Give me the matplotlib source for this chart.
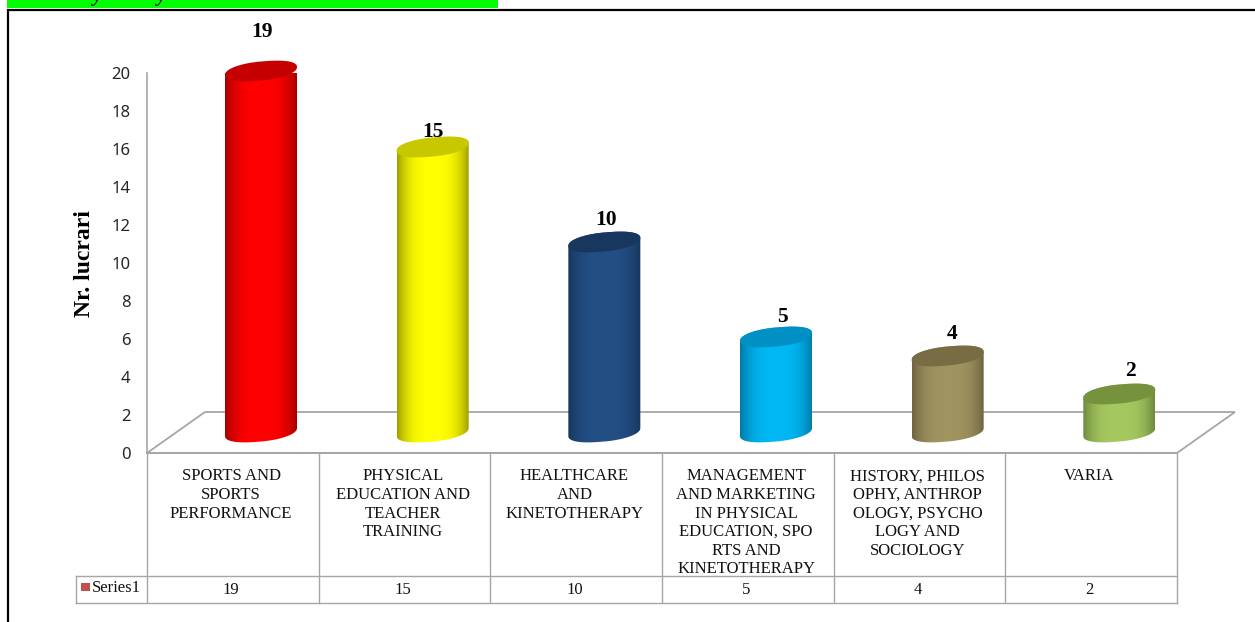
import numpy as np
import matplotlib
matplotlib.use('Agg')
import matplotlib.pyplot as plt
from matplotlib.patches import Polygon, Rectangle

# the chart data
categories = ['SPORTS AND\nSPORTS\nPERFORMANCE',
              'PHYSICAL\nEDUCATION AND\nTEACHER\nTRAINING',
              'HEALTHCARE\nAND\nKINETOTHERAPY',
              'MANAGEMENT\nAND MARKETING\nIN PHYSICAL\nEDUCATION, SPO\nRTS AND\nKINETOTHERAPY',
              'HISTORY, PHILOS\nOPHY, ANTHROP\nOLOGY, PSYCHO\nLOGY AND\nSOCIOLOGY',
              'VARIA']
values = [19, 15, 10, 5, 4, 2]
series_name = 'Series1'
y_ticks = [0, 2, 4, 6, 8, 10, 12, 14, 16, 18, 20]
y_title = 'Nr. lucrari'

# colours of each cylinder: edge, centre, top
edge_colors = ['#a80000', '#a0a000', '#17365d', '#0078a8', '#6e6540', '#6f8a3c']
mid_colors = ['#ff0000', '#ffff00', '#234f85', '#00b8f4', '#a09460', '#a6c860']
top_colors = ['#c40000', '#c8c800', '#17375e', '#0090c4', '#786c44', '#76923c']
# nudges of the value labels, in pixels
label_dx = [1, 0, 2, 6, 4, 11]
label_dy = [39, 15, 22, 20, 22, 23]

GREY = '#a6a6a6'
W, H = 1255, 622
X0, X1 = 147, 1177      # plot area in pixels
Y0, Y20 = 453, 73
PX_X = (X1 - X0) / len(values)
PX_Y = (Y0 - Y20) / 20.0

plt.rcParams['font.family'] = ['Liberation Serif', 'DejaVu Serif']

fig = plt.figure(figsize=(W / 100, H / 100), dpi=100)
ax = fig.add_axes([X0 / W, 1 - Y0 / H, (X1 - X0) / W, (Y0 - Y20) / H])
ax.set_xlim(0, len(values))
ax.set_ylim(0, 20)
ax.patch.set_alpha(0)
for s in ['top', 'right', 'bottom']:
    ax.spines[s].set_visible(False)
ax.spines['left'].set_color(GREY)
ax.spines['left'].set_linewidth(1.2)
ax.set_xticks([])
ax.set_yticks(y_ticks)
ax.tick_params(axis='y', length=0, pad=12, labelsize=12, labelcolor='#262626')
for t in ax.get_yticklabels():
    t.set_family('Noto Sans')


def dx(px):
    return px / PX_X


def dy(px):
    return px / PX_Y


# floor of the 3d box
floor = Polygon([(0, 0), (dx(58), dy(41)), (len(values) + dx(58), dy(41)),
                 (len(values), 0)], closed=True, fc='white', ec=GREY, lw=1.3,
                clip_on=False, zorder=1)
ax.add_patch(floor)


def cylinder(i, val):
    """one gradient cylinder standing on the floor"""
    cx = i + dx(114)
    base = dy(21)
    a, b, s = dx(36), dy(9.5), dy(4)
    t = np.linspace(0, 2 * np.pi, 181)
    ex = cx + a * np.sign(np.cos(t)) * np.abs(np.cos(t)) ** 0.9
    ey = b * np.sign(np.sin(t)) * np.abs(np.sin(t)) ** 0.9 + s * np.cos(t)
    top = base + val

    # body outline: lower half of base ellipse, then upper half of top one
    low = (t >= np.pi)
    up = (t <= np.pi)
    bx = np.concatenate([ex[low], ex[up]])
    by = np.concatenate([base + ey[low], top + ey[up]])
    body = Polygon(np.column_stack([bx, by]), closed=True, fc='none', ec='none',
                   clip_on=False)
    ax.add_patch(body)

    c0 = np.array(matplotlib.colors.to_rgb(edge_colors[i]))
    c1 = np.array(matplotlib.colors.to_rgb(mid_colors[i]))
    u = np.linspace(-1, 1, 72)
    w = np.clip(1 - np.abs(u) ** 3, 0, 1)[:, None]
    img = (c0 + (c1 - c0) * w)[None, :, :]
    im = ax.imshow(img, extent=[cx - a, cx + a, base - b - s, top + b + s],
                   aspect='auto', zorder=3, interpolation='bilinear')
    im.set_clip_path(body)

    ax.add_patch(Polygon(np.column_stack([ex, top + ey]), closed=True,
                         fc=top_colors[i], ec='none', zorder=4, clip_on=False))


for i, v in enumerate(values):
    cylinder(i, v)
    ax.text(i + dx(114 + label_dx[i]), dy(21) + v + dy(label_dy[i]), str(v),
            ha='center', va='center', fontsize=15.5, fontweight='bold',
            color='black', clip_on=False, zorder=6)

ax.set_xlim(0, len(values))
ax.set_ylim(0, 20)
ax.text(-dx(62), dy(Y0 - 264), y_title, rotation=90, ha='center', va='center',
        fontsize=17, fontweight='bold', color='black', clip_on=False)

# data table below the plot
y_cat = -dy(123)
y_val = -dy(150)
x_key = -dx(71)
line = dict(color=GREY, lw=1.0, clip_on=False, zorder=2)
ax.plot([0, len(values)], [0, 0], color=GREY, lw=1.3, clip_on=False, zorder=2)
ax.plot([x_key, len(values)], [y_cat, y_cat], **line)
ax.plot([x_key, len(values)], [y_val, y_val], **line)
ax.plot([x_key, x_key], [y_cat, y_val], **line)
for k in range(len(values) + 1):
    ax.plot([k, k], [0, y_val], **line)

for i, (c, v) in enumerate(zip(categories, values)):
    ax.text(i + 0.49, -dy(15.5), c, ha='center', va='top', fontsize=12,
            linespacing=1.21, color='#111111', clip_on=False)
    ax.text(i + 0.49, (y_cat + y_val) / 2, str(v), ha='center', va='center',
            fontsize=12, color='#111111', clip_on=False)

ax.add_patch(Rectangle((x_key + dx(5), y_cat - dy(15)), dx(9), dy(8),
                       fc='#c0504d', ec='none', clip_on=False))
ax.text(x_key + dx(16), (y_cat + y_val) / 2 + dy(1), series_name, ha='left',
        va='center', fontsize=12, color='#111111', clip_on=False)

# page furniture around the chart: green heading strip and black frame
page = fig.add_axes([0, 0, 1, 1], zorder=-1)
page.set_xlim(0, W)
page.set_ylim(H, 0)
page.axis('off')
strip = Rectangle((7, 0), 491, 8, fc='#00ff00', ec='none')
page.add_patch(strip)
# only the descenders of the cut-off heading show in the strip
for xpos in (97, 161):
    page.text(xpos, 1, 'y', ha='center', va='baseline', fontsize=15,
              fontweight='bold', fontstyle='italic', color='black',
              clip_path=strip, clip_on=True)
page.plot([8, 8, W], [H, 9.5, 9.5], color='black', lw=1.6,
          solid_joinstyle='miter')

fig.savefig('out.png', dpi=100)
